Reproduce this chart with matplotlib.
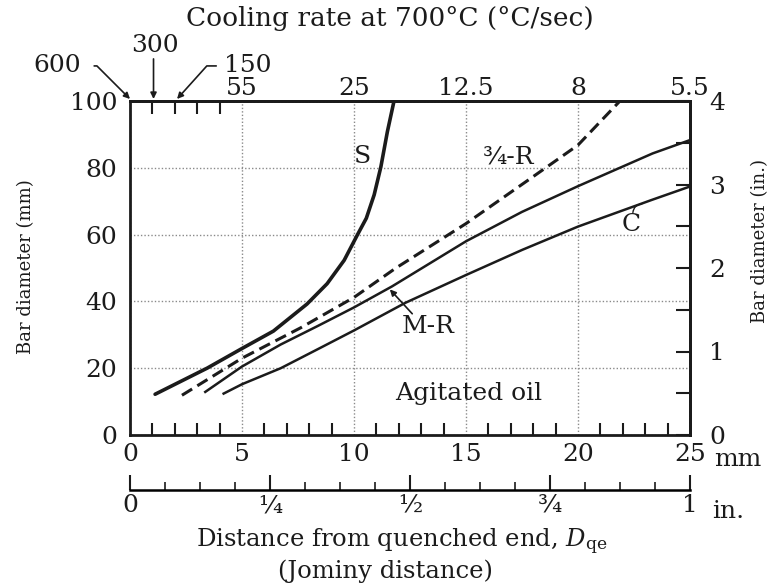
import matplotlib
matplotlib.use("Agg")
import matplotlib.pyplot as plt

plt.rcParams['font.family'] = ['DejaVu Serif']
plt.rcParams['mathtext.fontset'] = 'dejavuserif'

# ---- data (Jominy distance in mm, bar diameter in mm) ----
s_x = [1.12, 3.44, 5.0, 6.4, 7.9, 8.8, 9.56, 10.15, 10.55, 10.9, 11.2, 11.49, 11.78]
s_y = [12.2, 20.0, 25.9, 31.1, 39.2, 45.3, 52.3, 59.9, 64.9, 71.9, 80.3, 90.8, 99.8]

r34_x = [2.32, 5.0, 7.62, 10.0, 11.85, 15.0, 17.9, 20.0, 21.83]
r34_y = [11.9, 23.0, 32.1, 41.2, 49.9, 63.3, 76.9, 86.8, 99.7]

mr_x = [3.36, 5.0, 6.73, 8.37, 10.0, 11.7, 15.0, 17.5, 20.0, 23.33, 25.0]
mr_y = [12.9, 20.5, 27.1, 32.6, 38.2, 44.5, 58.0, 66.8, 74.5, 84.3, 88.3]

c_x = [4.18, 5.0, 6.73, 8.5, 10.0, 12.3, 15.0, 17.5, 20.0, 23.3, 25.0]
c_y = [12.4, 15.2, 20.0, 26.1, 31.3, 39.6, 47.9, 55.4, 62.4, 70.4, 74.4]

mm_ticks = [0, 5, 10, 15, 20, 25]
mm_labels = ['0', '5', '10', '15', '20', '25']
dia_ticks = [0, 20, 40, 60, 80, 100]
dia_labels = ['0', '20', '40', '60', '80', '100']
rate_pos = [5, 10, 15, 20, 25]
rate_labels = ['55', '25', '12.5', '8', '5.5']
inch_ticks = [0, 0.25, 0.5, 0.75, 1.0]
inch_labels = ['0', '¼', '½', '¾', '1']
dia_in_ticks = [0, 1, 2, 3, 4]
dia_in_labels = ['0', '1', '2', '3', '4']

K = '#1b1b1b'
FS = 18
FSR = 13  # rotated axis titles

fig = plt.figure(figsize=(7.77, 5.85), dpi=100)
ax = fig.add_axes([130/777, 1-435/585, 560/777, 334/585])
ax.set_xlim(0, 25)
ax.set_ylim(0, 100)
for sp in ax.spines.values():
    sp.set_linewidth(2.0)
    sp.set_color(K)

ax.set_xticks(mm_ticks, labels=mm_labels)
ax.set_xticks([i for i in range(1, 25) if i % 5], minor=True)
ax.set_yticks(dia_ticks, labels=dia_labels)
ax.tick_params(axis='x', which='major', length=0, pad=6, labelsize=FS, colors=K)
ax.tick_params(axis='x', which='minor', direction='in', length=9, width=1.5, color=K)
ax.tick_params(axis='y', which='major', length=0, pad=9, labelsize=FS, colors=K)
ax.grid(True, which='major', ls=(0, (1, 1.5)), color='#8a8a8a', lw=1.0)

# curves
ax.plot(s_x, s_y, color=K, lw=2.6, solid_capstyle='round', solid_joinstyle='round')
ax.plot(r34_x, r34_y, color=K, lw=2.2, ls=(0, (3.9, 2.0)))
ax.plot(mr_x, mr_y, color=K, lw=1.8, solid_joinstyle='round')
ax.plot(c_x, c_y, color=K, lw=1.8, solid_joinstyle='round')

# curve labels
ax.text(10.37, 83.3, 'S', fontsize=FS, ha='center', va='center', color=K)
ax.text(16.9, 83.3, '¾-R', fontsize=FS, ha='center', va='center', color=K)
ax.text(22.36, 63.0, 'C', fontsize=FS, ha='center', va='center', color=K)
ax.annotate('', xy=(22.85, 69.2), xytext=(22.45, 66.6),
            arrowprops=dict(arrowstyle='-', lw=1.0, color=K,
                            connectionstyle='arc3,rad=-0.4', shrinkA=0, shrinkB=0))
ax.text(13.3, 32.6, 'M-R', fontsize=FS, ha='center', va='center', color=K)
ax.annotate('', xy=(11.6, 43.6), xytext=(12.6, 36.3),
            arrowprops=dict(arrowstyle='-|>', lw=1.2, color=K, mutation_scale=9,
                            shrinkA=0, shrinkB=0))
ax.text(15.1, 12.5, 'Agitated oil', fontsize=FS, ha='center', va='center', color=K)

# top cooling-rate axis
secx = ax.secondary_xaxis('top')
secx.set_xticks(rate_pos, labels=rate_labels)
secx.set_xticks([1, 2, 3, 4], minor=True)
secx.tick_params(which='major', length=0, pad=1, labelsize=FS, colors=K)
secx.tick_params(which='minor', direction='in', length=9, width=1.5, color=K)
secx.spines['top'].set_linewidth(2.0)

# arrows for 600 / 300 / 150
ax.text(-3.26, 110.5, '600', fontsize=FS, ha='center', va='center', color=K, clip_on=False)
ax.annotate('', xy=(0.0, 100.6), xytext=(-1.6, 110.5), annotation_clip=False,
            arrowprops=dict(arrowstyle='-|>', lw=1.2, color=K, mutation_scale=9,
                            shrinkA=0, shrinkB=0,
                            connectionstyle='angle,angleA=0,angleB=135,rad=0'))
ax.text(1.12, 116.5, '300', fontsize=FS, ha='center', va='center', color=K, clip_on=False)
ax.annotate('', xy=(1.05, 100.6), xytext=(1.05, 112.6), annotation_clip=False,
            arrowprops=dict(arrowstyle='-|>', lw=1.2, color=K, mutation_scale=9,
                            shrinkA=0, shrinkB=0))
ax.text(5.25, 110.5, '150', fontsize=FS, ha='center', va='center', color=K, clip_on=False)
ax.annotate('', xy=(2.1, 100.6), xytext=(3.85, 110.5), annotation_clip=False,
            arrowprops=dict(arrowstyle='-|>', lw=1.2, color=K, mutation_scale=9,
                            shrinkA=0, shrinkB=0,
                            connectionstyle='angle,angleA=0,angleB=48,rad=0'))

# right inch axis
secy = ax.secondary_yaxis('right', functions=(lambda y: y / 25.0, lambda y: y * 25.0))
secy.set_yticks(dia_in_ticks, labels=dia_in_labels)
secy.set_yticks([0.5, 1.5, 2.5, 3.5], minor=True)
secy.tick_params(which='both', direction='in', length=10, width=1.5, color=K,
                 labelsize=FS, pad=14, labelcolor=K)
secy.spines['right'].set_linewidth(2.0)

fig.text(26/777, 1-267/585, 'Bar diameter (mm)', fontsize=FSR, rotation=90,
         ha='center', va='center', color=K)
fig.text(760/777, 1-241/585, 'Bar diameter (in.)', fontsize=FSR, rotation=90,
         ha='center', va='center', color=K)

# bottom inch scale
secb = ax.secondary_xaxis(-(490-435)/334, functions=(lambda x: x / 25.0, lambda x: x * 25.0))
secb.set_xticks(inch_ticks, labels=inch_labels)
secb.set_xticks([i/16 for i in range(1, 16) if i % 4], minor=True)
secb.tick_params(which='major', direction='in', length=11, width=1.5, color=K,
                 labelsize=FS, pad=3, labelcolor=K)
secb.tick_params(which='minor', direction='in', length=6, width=1.2, color=K)
secb.spines['bottom'].set_linewidth(1.8)

fig.text(714/777, 1-459/585, 'mm', fontsize=FS, ha='left', va='center', color=K)
fig.text(712/777, 1-512/585, 'in.', fontsize=FS, ha='left', va='center', color=K)

fig.text(390/777, 1-18/585, 'Cooling rate at 700°C (°C/sec)', fontsize=19,
         ha='center', va='center', color=K)
fig.text(402/777, 1-542/585, r'Distance from quenched end, $D_{\mathrm{qe}}$',
         fontsize=17.5, ha='center', va='center', color=K)
fig.text(385/777, 1-571/585, '(Jominy distance)', fontsize=17.5,
         ha='center', va='center', color=K)

fig.savefig('out.png', dpi=100, facecolor='white')
